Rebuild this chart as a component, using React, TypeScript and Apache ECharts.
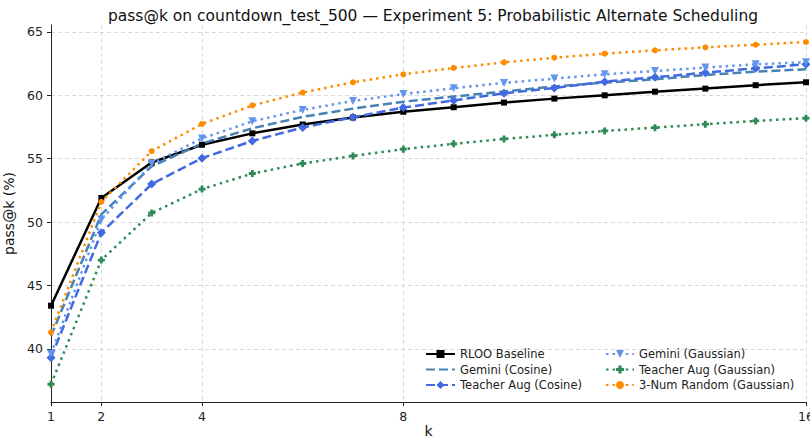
import React, { useEffect, useRef } from "react";
import * as echarts from "echarts";

const kValues = [1, 2, 3, 4, 5, 6, 7, 8, 9, 10, 11, 12, 13, 14, 15, 16];
const xTicks = [1, 2, 4, 8, 16];
const yTicks = [40, 45, 50, 55, 60, 65];

const rlooBaseline = [43.4, 51.9, 54.7, 56.1, 57.0, 57.7, 58.25, 58.7, 59.06, 59.43, 59.74, 60.0, 60.29, 60.53, 60.8, 61.03];
const geminiCosine = [41.0, 50.6, 54.4, 56.2, 57.4, 58.3, 58.95, 59.5, 59.9, 60.3, 60.7, 61.0, 61.27, 61.6, 61.87, 62.06];
const teacherAugCosine = [39.3, 49.15, 53.0, 55.04, 56.4, 57.46, 58.27, 59.03, 59.6, 60.16, 60.58, 61.08, 61.42, 61.79, 62.13, 62.45];
const geminiGaussian = [39.6, 50.2, 54.6, 56.6, 57.95, 58.85, 59.56, 60.1, 60.56, 60.98, 61.32, 61.66, 61.92, 62.19, 62.45, 62.61];
const teacherAugGaussian = [37.2, 47.0, 50.72, 52.6, 53.83, 54.62, 55.22, 55.75, 56.17, 56.56, 56.88, 57.19, 57.45, 57.72, 57.98, 58.2];
const threeNumRandom = [41.3, 51.6, 55.6, 57.74, 59.2, 60.22, 61.03, 61.66, 62.16, 62.6, 62.97, 63.29, 63.55, 63.79, 63.99, 64.21];

const FONT = "DejaVu Sans";
const PLUS = "path://M3,0 H7 V3 H10 V7 H7 V10 H3 V7 H0 V3 H3 Z";
const TRI_DOWN = "path://M0,0 L10,0 L5,9 Z";

function pairs(vals: number[]) {
  return kValues.map((k, i) => [k, vals[i]]);
}

export default function App() {
  const ref = useRef<HTMLDivElement>(null);
  useEffect(() => {
    if (!ref.current) return;
    const chart = echarts.init(ref.current, null, { renderer: "svg" });
    const dotted = [2.5, 4.1];
    const dashed = [9, 4];
    const mk = (
      name: string,
      vals: number[],
      color: string,
      type: any,
      symbol: string,
      symbolSize: number
    ) => ({
      name,
      type: "line",
      data: pairs(vals),
      symbol,
      symbolSize,
      showSymbol: symbol !== "none",
      lineStyle: { color, width: 2.5, type },
      itemStyle: { color },
      z: 3,
    });
    const legendCommon = {
      orient: "vertical",
      top: 343,
      itemHeight: 10,
      itemGap: 3.5,
      textStyle: { fontFamily: FONT, fontSize: 11.5, color: "#222" },
    };
    chart.setOption({
      animation: false,
      textStyle: { fontFamily: FONT },
      title: {
        text: "pass@k on countdown_test_500 — Experiment 5: Probabilistic Alternate Scheduling",
        left: 428,
        textAlign: "center",
        top: 3,
        textStyle: { fontFamily: FONT, fontSize: 15.5, fontWeight: "normal", color: "#111" },
      },
      grid: { left: 51, right: 4, top: 25, bottom: 37, containLabel: false, outerBoundsMode: "none" },
      xAxis: {
        type: "value",
        min: 1,
        max: 16,
        name: "k",
        nameLocation: "middle",
        nameGap: 22,
        nameMoveOverlap: false,
        nameTextStyle: { fontFamily: FONT, fontSize: 14, lineHeight: 14, color: "#111" },
        axisLine: { show: true, lineStyle: { color: "#222", width: 1 } },
        axisTick: { show: true, customValues: xTicks, length: 4, lineStyle: { color: "#222" } },
        axisLabel: { customValues: xTicks, margin: 8, fontFamily: FONT, fontSize: 12.5, color: "#222" },
        splitLine: { show: true, lineStyle: { color: "#d0d0d0", type: [4, 3], width: 0.8 } },
      },
      yAxis: {
        type: "value",
        min: 35.8,
        max: 65.55,
        name: "pass@k (%)",
        nameLocation: "middle",
        nameGap: 28,
        nameTextStyle: { fontFamily: FONT, fontSize: 14, color: "#111" },
        axisLine: { show: true, lineStyle: { color: "#222", width: 1 } },
        axisTick: { show: true, customValues: yTicks, length: 4, lineStyle: { color: "#222" } },
        axisLabel: { customValues: yTicks, margin: 8, fontFamily: FONT, fontSize: 12.5, color: "#222" },
        splitLine: { show: true, lineStyle: { color: "#d0d0d0", type: [4, 3], width: 0.8 } },
      },
      legend: [
        {
          ...legendCommon,
          left: 420,
          itemWidth: 29,
          data: [
            "RLOO Baseline",
            { name: "Gemini (Cosine)", itemStyle: { opacity: 0 } },
            "Teacher Aug (Cosine)",
          ],
        },
        {
          ...legendCommon,
          left: 600,
          itemWidth: 28,
          data: ["Gemini (Gaussian)", "Teacher Aug (Gaussian)", "3-Num Random (Gaussian)"],
        },
      ],
      series: [
        mk("RLOO Baseline", rlooBaseline, "#000000", "solid", "rect", 6),
        mk("Gemini (Cosine)", geminiCosine, "#4682B4", dashed, "none", 0),
        mk("Teacher Aug (Cosine)", teacherAugCosine, "#4169E1", dashed, "diamond", 9),
        mk("Gemini (Gaussian)", geminiGaussian, "#6495ED", dotted, TRI_DOWN, 8),
        mk("Teacher Aug (Gaussian)", teacherAugGaussian, "#2E8B57", dotted, PLUS, 7),
        mk("3-Num Random (Gaussian)", threeNumRandom, "#FF8C00", dotted, "circle", 6),
      ],
    });
    return () => chart.dispose();
  }, []);
  return (
    <div
      ref={ref}
      style={{ position: "fixed", left: 0, top: 0, width: 810, height: 439, background: "#fff" }}
    />
  );
}
